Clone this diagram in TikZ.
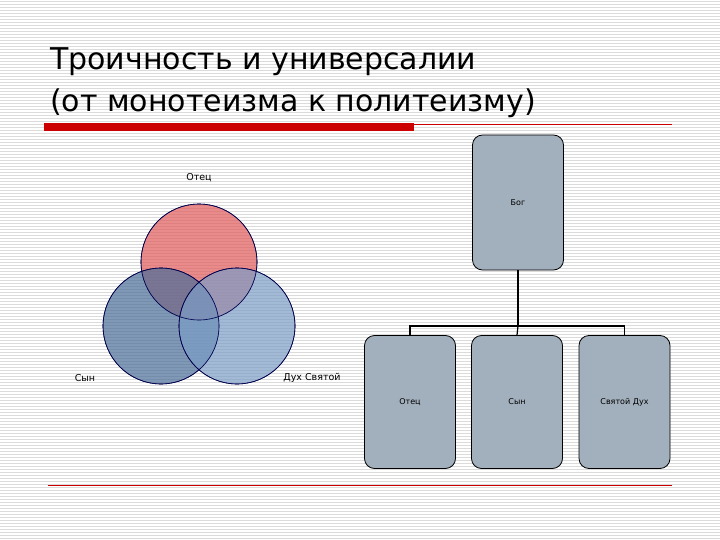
\documentclass[tikz,border=0pt]{standalone}
\usepackage{fontspec}
\setmainfont{DejaVu Sans}
\begin{document}
\begin{tikzpicture}[x=1pt,y=-1pt,
  box/.style={draw=black,line width=0.8pt,fill=boxgray,rounded corners=10pt,minimum width=91pt,minimum height=133pt,font=\fontsize{8}{10}\selectfont,inner sep=0pt},
  lbl/.style={font=\fontsize{9.5}{11}\selectfont,inner sep=0pt},
  ven/.style={draw=black!70!blue,line width=0.6pt,fill opacity=0.7}]
\definecolor{boxgray}{HTML}{A2AFBC}
\definecolor{vred}{HTML}{E05A5A}
\definecolor{vblue1}{HTML}{4A6D98}
\definecolor{vblue2}{HTML}{7C9DC6}
\useasboundingbox (0,0) rectangle (720,540);
\fill[white] (0,0) rectangle (720,540);
\foreach \i in {0,...,179} {\draw[black!14,line width=0.6pt] (0,\i*3+1) -- (720,\i*3+1);}
\node[anchor=base west,inner sep=0pt,font=\fontsize{30}{34}\selectfont] (t1) at (50,70) {Троичность и универсалии};
\node[anchor=base west,inner sep=0pt,font=\fontsize{30}{34}\selectfont] (t2) at (50,112) {(от монотеизма к политеизму)};
\fill[red!80!black] (44,123) rectangle (414,131);
\draw[red!80!black,line width=0.6pt] (414,124.5) -- (672,124.5);
\draw[red!80!black,line width=0.6pt] (48,485) -- (672,485);
% venn
\fill[vred,ven] (199,262) circle (58);
\fill[vblue1,ven] (161,326) circle (58);
\fill[vblue2,ven] (237,326) circle (58);
\draw[black!70!blue,line width=0.6pt] (199,262) circle (58) (161,326) circle (58) (237,326) circle (58);
\node[lbl] (l1) at (199,178) {Отец};
\node[lbl] (l2) at (85,378) {Сын};
\node[lbl] (l3) at (312,378) {Дух Святой};
% tree
\node[box,minimum height=135pt] (g) at (518,202.5) {Бог};
\node[box] (a) at (410,402) {Отец};
\node[box] (b) at (517,402) {Сын};
\node[box] (c) at (624.5,402) {Святой Дух};
\draw[line width=1.6pt] (g.south) -- (518,326);
\draw[line width=1.2pt] (a.north) -- (410,326) -- (624.5,326) -- (c.north);
\draw[line width=1.2pt] (518,326) -- (b.north);
\end{tikzpicture}
\end{document}
